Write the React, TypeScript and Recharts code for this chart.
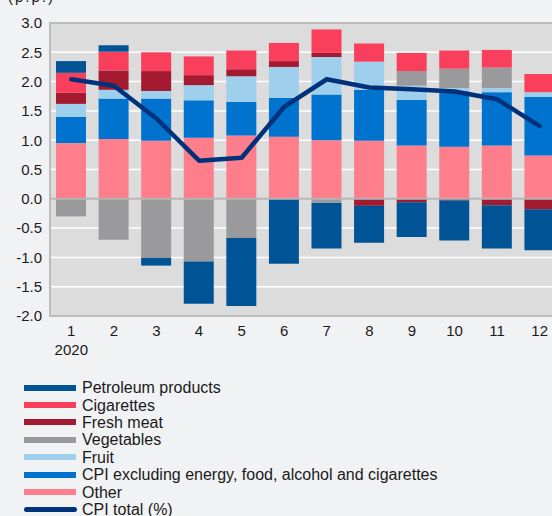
import {
  ComposedChart, Bar, Line, XAxis, YAxis, CartesianGrid,
  ReferenceLine, ReferenceArea,
} from 'recharts'

const months = ['1', '2', '3', '4', '5', '6', '7', '8', '9', '10', '11', '12']

const other = [0.95, 1.02, 0.99, 1.04, 1.08, 1.06, 1.0, 0.99, 0.91, 0.89, 0.91, 0.74]
const core = [0.45, 0.69, 0.72, 0.64, 0.57, 0.66, 0.78, 0.87, 0.78, 0.94, 0.91, 1.0]
const fruit = [0.22, 0.15, 0.13, 0.26, 0.44, 0.53, 0.64, 0.48, 0.24, 0.06, 0.07, 0.08]
const vegetables = [-0.3, -0.7, -1.01, -1.07, -0.67, 0, -0.07, 0, 0.25, 0.33, 0.35, 0]
const freshMeat = [0.19, 0.33, 0.34, 0.17, 0.12, 0.1, 0.07, -0.12, -0.06, -0.03, -0.11, -0.18]
const cigarettes = [0.34, 0.32, 0.32, 0.32, 0.32, 0.31, 0.4, 0.31, 0.31, 0.31, 0.3, 0.31]
const petroleum = [0.2, 0.11, -0.13, -0.72, -1.16, -1.11, -0.78, -0.63, -0.59, -0.68, -0.74, -0.7]
const cpiTotal = [2.04, 1.93, 1.37, 0.65, 0.7, 1.57, 2.04, 1.9, 1.87, 1.83, 1.7, 1.24]

const yTicks = [-2, -1.5, -1, -0.5, 0, 0.5, 1, 1.5, 2, 2.5, 3]

const FONT = '"Liberation Sans", Arial, sans-serif'

// stacking order from zero outward
const barSeries = [
  { key: 'other', name: 'Other', color: '#ff7e8c', values: other },
  { key: 'core', name: 'CPI excluding energy, food, alcohol and cigarettes', color: '#0073cf', values: core },
  { key: 'fruit', name: 'Fruit', color: '#9ecfec', values: fruit },
  { key: 'vegetables', name: 'Vegetables', color: '#9a9a9c', values: vegetables },
  { key: 'freshMeat', name: 'Fresh meat', color: '#a41a30', values: freshMeat },
  { key: 'cigarettes', name: 'Cigarettes', color: '#f93f5c', values: cigarettes },
  { key: 'petroleum', name: 'Petroleum products', color: '#005496', values: petroleum },
]

const legendOrder = ['petroleum', 'cigarettes', 'freshMeat', 'vegetables', 'fruit', 'core', 'other']
const LINE_COLOR = '#00317a'

const data = months.map((m, i) => {
  const row: Record<string, string | number> = { month: m, total: cpiTotal[i] }
  barSeries.forEach(s => { row[s.key] = s.values[i] })
  return row
})

function MonthTick(props: any) {
  const { x, y, payload } = props
  return (
    <g transform={`translate(${x},${y})`}>
      <text x={0} y={0} dy={12} textAnchor="middle" fontSize={15} fill="#1a1a1a" fontFamily={FONT}>
        {payload.value}
      </text>
      {payload.index === 0 && (
        <text x={0} y={0} dy={31} textAnchor="middle" fontSize={15} fill="#1a1a1a" fontFamily={FONT}>
          2020
        </text>
      )}
    </g>
  )
}

function Legend() {
  const items = legendOrder.map(k => barSeries.find(s => s.key === k)!)
  return (
    <div style={{ position: 'absolute', left: 24, top: 379, fontFamily: FONT, fontSize: 16, color: '#1a1a1a' }}>
      {items.map(s => (
        <div key={s.key} style={{ display: 'flex', alignItems: 'center', height: 17.4 }}>
          <span style={{ width: 52, height: 6, background: s.color, marginRight: 6 }} />
          <span style={{ lineHeight: '17px' }}>{s.name}</span>
        </div>
      ))}
      <div style={{ display: 'flex', alignItems: 'center', height: 17.4 }}>
        <span style={{ width: 53, height: 5, borderRadius: 3, background: LINE_COLOR, marginRight: 5 }} />
        <span style={{ lineHeight: '17px' }}>CPI total (%)</span>
      </div>
    </div>
  )
}

export default function App() {
  return (
    <div style={{
      position: 'fixed', left: 0, top: 0, width: 552, height: 516,
      overflow: 'hidden', background: '#f1f2f4', fontFamily: FONT,
    }}>
      <div style={{ position: 'absolute', left: 8, top: -12, fontSize: 15, color: '#1a1a1a', letterSpacing: 2 }}>
        (p.p.)
      </div>
      <ComposedChart
        width={566}
        height={516}
        data={data}
        stackOffset="sign"
        margin={{ top: 23, right: 5, bottom: 160, left: 0 }}
      >
        <CartesianGrid fill="#dcdcdc" stroke="#ffffff" strokeWidth={1.5} vertical={false} />
        <XAxis
          dataKey="month"
          tick={<MonthTick />}
          tickLine={false}
          axisLine={false}
          height={40}
          interval={0}
        />
        <YAxis
          domain={[-2, 3]}
          ticks={yTicks}
          tickFormatter={(v: number) => v.toFixed(1)}
          tick={{ fill: '#1a1a1a', fontSize: 15, fontFamily: FONT }}
          tickLine={false}
          axisLine={false}
          width={50}
          interval={0}
        />
        {barSeries.map(s => (
          <Bar
            key={s.key}
            dataKey={s.key}
            name={s.name}
            stackId="a"
            fill={s.color}
            barSize={30}
            isAnimationActive={false}
          />
        ))}
        <ReferenceLine y={0} stroke="#b4b4b4" strokeWidth={2} />
        <Line
          dataKey="total"
          name="CPI total (%)"
          stroke={LINE_COLOR}
          strokeWidth={4.5}
          strokeLinejoin="round"
          strokeLinecap="round"
          dot={false}
          type="linear"
          isAnimationActive={false}
        />
        <ReferenceArea y1={-2} y2={3} fill="none" stroke="#bcbcbc" strokeWidth={2} ifOverflow="visible" />
      </ComposedChart>
      <Legend />
    </div>
  )
}
